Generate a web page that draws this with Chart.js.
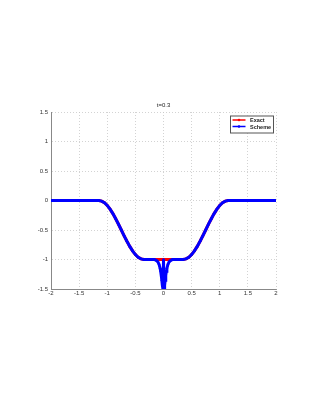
<!DOCTYPE html>
<html>
<head>
<meta charset="utf-8">
<script src="https://cdn.jsdelivr.net/npm/chart.js@4/dist/chart.umd.min.js"></script>
<style>
    body { margin: 0; background: #fff; }
    canvas { display: block; }
</style>
</head>
<body>
<canvas id="chart" width="316" height="409"></canvas>
<script>
// outer part of the profile, shared by both curves
let leftX = [-2, -1.15, -1.1, -1.05, -1, -0.95, -0.9, -0.85, -0.8, -0.75, -0.7, -0.65, -0.6, -0.55, -0.5, -0.45, -0.4, -0.35];
let leftY = [0, 0, -0.01, -0.038, -0.084, -0.146, -0.222, -0.309, -0.402, -0.5, -0.598, -0.691, -0.778, -0.854, -0.916, -0.962, -0.99, -1];
let rightX = [0.35, 0.4, 0.45, 0.5, 0.55, 0.6, 0.65, 0.7, 0.75, 0.8, 0.85, 0.9, 0.95, 1, 1.05, 1.1, 1.15, 2];
let rightY = [-1, -0.99, -0.962, -0.916, -0.854, -0.778, -0.691, -0.598, -0.5, -0.402, -0.309, -0.222, -0.146, -0.084, -0.038, -0.01, 0, 0];

// scheme dip around x = 0
let dipX = [-0.16, -0.14, -0.12, -0.1, -0.08, -0.06, -0.05, -0.04, -0.03, -0.02, -0.01, 0, 0.01, 0.02, 0.03, 0.04, 0.05, 0.06, 0.08, 0.1, 0.12, 0.14, 0.16];
let dipY = [-1, -1.01, -1.02, -1.04, -1.08, -1.15, -1.2, -1.27, -1.35, -1.44, -1.5, -1, -1.5, -1.44, -1.35, -1.27, -1.2, -1.15, -1.08, -1.04, -1.02, -1.01, -1];

let xTicks = [-2, -1.5, -1, -0.5, 0, 0.5, 1, 1.5, 2];
let yTicks = [-1.5, -1, -0.5, 0, 0.5, 1, 1.5];
let seriesNames = ["Exact", "Scheme"];
let titleText = "t=0.3";

function points(xs, ys) {
    let out = [];
    for (let i in xs) {
        out.push({ x: xs[i], y: ys[i] });
    }
    return out;
}

const exactData = points(leftX.concat(rightX), leftY.concat(rightY));
const schemeData = points(leftX.concat(dipX, rightX), leftY.concat(dipY, rightY));

const font = { family: "'Liberation Sans', Arial, sans-serif", size: 6 };

const extras = {
    id: "extras",
    afterDraw(chart) {
        let ctx = chart.ctx;
        let area = chart.chartArea;
        ctx.save();
        // title
        ctx.fillStyle = "#222";
        ctx.font = "6px 'Liberation Sans', Arial, sans-serif";
        ctx.textAlign = "center";
        ctx.textBaseline = "middle";
        ctx.fillText(titleText, (area.left + area.right) / 2, 105);

        // legend box
        let bx = 230, by = 115.5, bw = 43, bh = 17;
        ctx.fillStyle = "#fff";
        ctx.fillRect(bx, by, bw, bh);
        ctx.strokeStyle = "#555";
        ctx.lineWidth = 1;
        ctx.strokeRect(bx + 0.5, by + 0.5, bw, bh);
        let colors = ["#ff0000", "#0000ff"];
        let rows = [120, 126.5];
        ctx.textAlign = "left";
        ctx.font = "bold 5.5px 'Liberation Sans', Arial, sans-serif";
        for (let i in seriesNames) {
            ctx.strokeStyle = colors[i];
            ctx.lineWidth = 1.5;
            ctx.beginPath();
            ctx.moveTo(232.5, rows[i]);
            ctx.lineTo(245.5, rows[i]);
            ctx.stroke();
            ctx.fillStyle = colors[i];
            ctx.beginPath();
            ctx.arc(239, rows[i], 1.3, 0, Math.PI * 2);
            ctx.fill();
            ctx.fillStyle = "#222";
            ctx.fillText(seriesNames[i], 250, rows[i] + 0.5);
        }
        ctx.restore();
    }
};

new Chart(document.getElementById("chart"), {
    type: "scatter",
    data: {
        datasets: [{
            label: seriesNames[1],
            data: schemeData,
            showLine: true,
            borderColor: "#0000ff",
            backgroundColor: "#0000ff",
            borderWidth: 3,
            pointRadius: 1.2,
            pointBorderWidth: 0,
            order: 1
        }, {
            label: seriesNames[0],
            data: exactData,
            showLine: true,
            borderColor: "#ff0000",
            backgroundColor: "#ff0000",
            borderWidth: 3,
            pointRadius: 1.2,
            pointBorderWidth: 0,
            order: 2
        }]
    },
    options: {
        responsive: false,
        animation: false,
        layout: { padding: { left: 0, right: 40, top: 112, bottom: 0 } },
        plugins: {
            legend: { display: false },
            tooltip: { enabled: false },
            title: { display: false }
        },
        scales: {
            x: {
                type: "linear",
                min: -2,
                max: 2,
                afterBuildTicks(scale) {
                    scale.ticks = xTicks.map((v) => ({ value: v }));
                },
                afterFit(scale) { scale.height = 120; },
                ticks: { font: font, color: "#333", padding: 1, maxRotation: 0, callback: (v) => String(v) },
                grid: { color: "#c8c8c8", lineWidth: 0.8, drawTicks: false },
                border: { color: "#888", width: 1, dash: [1, 2] }
            },
            y: {
                min: -1.5,
                max: 1.5,
                afterBuildTicks(scale) {
                    scale.ticks = yTicks.map((v) => ({ value: v }));
                },
                afterFit(scale) { scale.width = 51; },
                ticks: { font: font, color: "#333", padding: 3, callback: (v) => String(v) },
                grid: { color: "#c8c8c8", lineWidth: 0.8, drawTicks: false },
                border: { color: "#888", width: 1, dash: [1, 2] }
            }
        }
    },
    plugins: [extras]
});
</script>
</body>
</html>
